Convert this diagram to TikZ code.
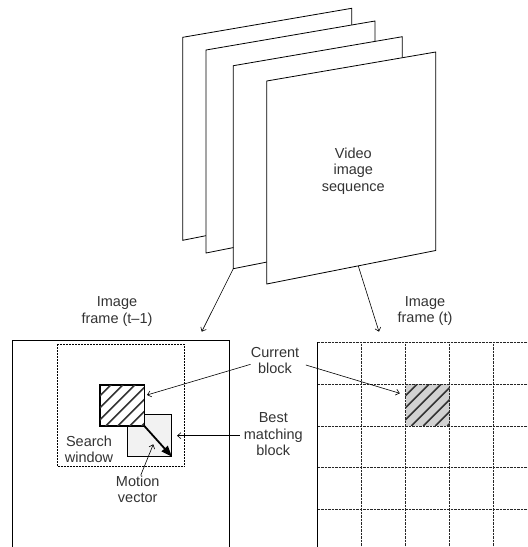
\documentclass[tikz,border=0pt]{standalone}
\usepackage{fontspec}
\setmainfont{Liberation Sans}
\usetikzlibrary{arrows.meta}

\begin{document}
\begin{tikzpicture}[x=1pt, y=-1pt,
    every node/.style={font=\fontsize{14.5}{16.3}\selectfont, text=black!80, align=center, inner sep=0pt},
    pointer/.style={-{Straight Barb[length=3.5pt,width=6pt]}, line width=0.6pt},
    sheet/.style={draw, fill=white, line width=0.8pt},
    hatch/.style={line width=1.6pt, black!80},
    gridline/.style={dash pattern=on 0.7pt off 0.7pt, line width=0.6pt, black!85},
    blockbox/.style={minimum width=44pt, minimum height=41.5pt}]
  \useasboundingbox (0,0) rectangle (528,547);
  \clip (0,0) rectangle (528,547);

  % stacked frames of the sequence
  \foreach \n/\fx/\fy in {1/182.7/37.3, 2/206/50, 3/233.3/65.7, 4/266.7/81} {
    \draw[sheet] (\fx,\fy) -- ++(169,-29) -- ++(0,198.5) -- ++(-169,33.5) -- cycle;
    \coordinate (sheet\n) at (\fx,\fy+203);
  }
  \node (video) at (353.3,171) {Video\\image\\sequence};
  \coordinate (sheetcut) at (358.3,266);

  % previous frame
  \draw[line width=1pt] (12.5,340.7) rectangle (229.5,560);
  \draw[dash pattern=on 2pt off 1pt, line width=0.7pt] (57,344) rectangle (184.5,466.5);
  \node[blockbox, draw, fill=gray!10, line width=0.6pt, minimum height=42pt] (best) at (149.7,435.4) {};
  \node[blockbox, draw, fill=white, line width=0.6pt, minimum height=40.7pt] (curL) at (122,405.3) {};
  \begin{scope}
    \clip (curL.south west) rectangle (curL.north east);
    \foreach \s in {-42,-30,...,42}
      \draw[hatch] ([xshift=\s pt]curL.south west) -- ++(42,-42);
  \end{scope}
  \draw[line width=0.6pt] (curL.south west) rectangle (curL.north east);
  \draw[line width=1.8pt, -{Triangle[length=11pt,width=8pt]}] (curL.south east) -- (best.south east);

  \node (search) at (89,449.5) {Search\\window};
  \node (motion) at (137.7,489) {Motion\\vector};
  \draw[pointer] ([xshift=3pt]motion.north) -- ([xshift=3.6pt,yshift=-8.9pt]best.center);

  \node (prevlbl) at (117,311.5) {Image\\frame (t--1)};
  \coordinate (prevtip) at (201.7,331.7);
  \draw[pointer] (sheet3) -- (prevtip);

  % current frame
  \node[blockbox, fill=gray!35] (curR) at (427.5,405) {};
  \begin{scope}
    \clip (curR.south west) rectangle (curR.north east);
    \foreach \s in {-42,-30,...,42}
      \draw[hatch] ([xshift=\s pt]curR.south west) -- ++(42,-42);
  \end{scope}
  \foreach \i in {0,...,5}
    \draw[gridline] (317.7+44*\i,342.3) -- (317.7+44*\i,560);
  \foreach \j in {0,...,5}
    \draw[gridline] (317.7,342.3+41.8*\j) -- (540,342.3+41.8*\j);
  \draw[line width=0.8pt] (317.7,342.3) -- (317.7,560);

  \node (curlbl) at (425,311) {Image\\frame (t)};
  \coordinate (curtip) at (379,331.7);
  \draw[pointer] (sheetcut) -- (curtip);

  % labels between the frames
  \node (cur) at (275,360.5) {Current\\block};
  \node (bestlbl) at (273.3,434.3) {Best\\matching\\block};
  \draw[pointer] ([yshift=-3.8pt]cur.west) -- ([xshift=2.7pt,yshift=10.3pt]curL.east);
  \draw[pointer] ([xshift=6.5pt,yshift=-4.5pt]cur.east) -- ([xshift=-5.5pt,yshift=11.7pt]curR.west);
  \draw[pointer] ([xshift=-4pt,yshift=-1.4pt]bestlbl.west) -- ([xshift=5pt,yshift=-0.3pt]best.east);
\end{tikzpicture}
\end{document}
